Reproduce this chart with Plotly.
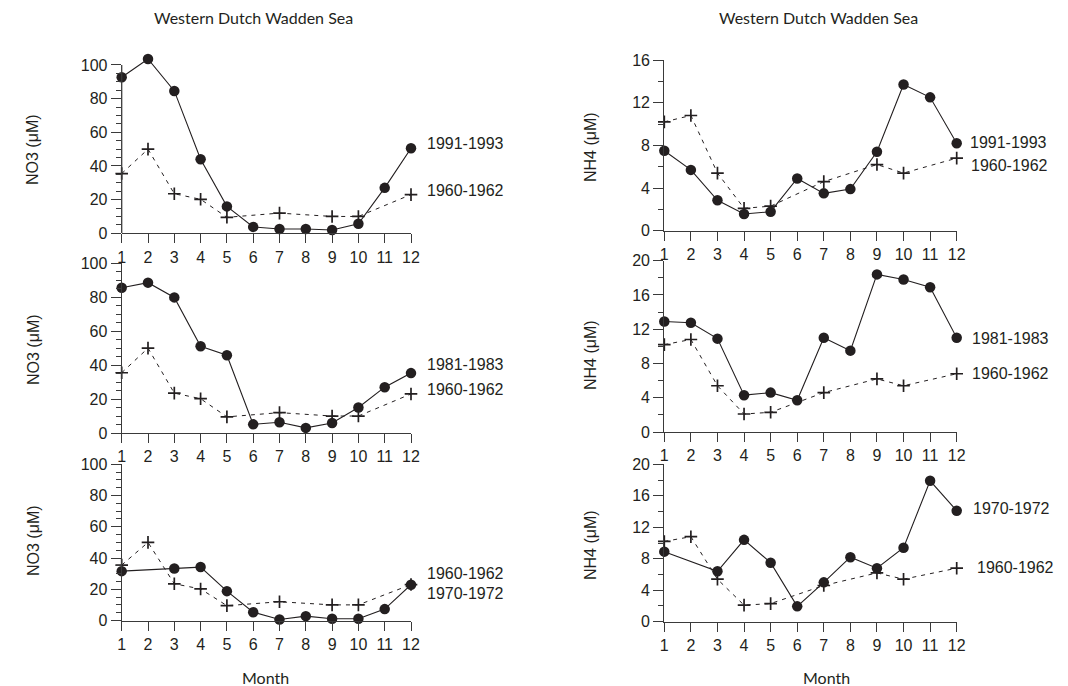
import plotly.graph_objects as go

# The page body adds an 8px margin, so the figure is sized and placed to fit the 1068x686 view.
VIEW_W, VIEW_H, OFF = 1068, 686, 8
W, H = VIEW_W - OFF, VIEW_H - OFF

months = list(range(1, 13))
month_labels = [str(m) for m in months]

# NO3 (uM)
no3_1960_1962 = [35.5, 50, 23.5, 20.2, 9.5, None, 12, None, 10, 10, None, 23]
no3_1991_1993 = [92.7, 103.6, 84.6, 44, 16, 3.8, 2.6, 2.6, 2.0, 5.7, 27, 50.5]
no3_1981_1983 = [85.6, 88.6, 79.9, 51.1, 45.8, 5.1, 6.3, 3.0, 5.9, 15, 27, 35.3]
no3_1970_1972 = [31.6, None, 33.3, 34.2, 18.8, 5.3, 0.6, 2.8, 1.1, 1.1, 7.3, 22.9]

# NH4 (uM)
nh4_1960_1962 = [10.2, 10.8, 5.4, 2.1, 2.3, None, 4.6, None, 6.2, 5.4, None, 6.8]
nh4_1991_1993 = [7.5, 5.7, 2.85, 1.56, 1.78, 4.9, 3.5, 3.9, 7.4, 13.7, 12.5, 8.2]
nh4_1981_1983 = [12.9, 12.75, 10.9, 4.3, 4.6, 3.7, 11.0, 9.5, 18.4, 17.8, 16.9, 11.0]
nh4_1970_1972 = [8.9, None, 6.4, 10.4, 7.5, 1.95, 5.0, 8.2, 6.8, 9.4, 17.9, 14.1]

title_text = "Western Dutch Wadden Sea"
no3_title = "NO3 (μM)"
nh4_title = "NH4 (μM)"
xlab = "Month"

FONT = "Liberation Sans, Arial, sans-serif"
TFONT = "Lato, Open Sans, sans-serif"
INK = "#231f20"
AX = "#3a3a3a"

def fx(p):
    return (p - OFF) / W

def fy(p):
    return 1 - (p - OFF) / H

panels = [
    dict(x0=121.7, x1=411.0, ytop=65.0, y0=233.3, amax=100, rtop=104.5, dtick=20, minor=5,
         main=no3_1991_1993, ref=no3_1960_1962),
    dict(x0=121.7, x1=411.0, ytop=263.3, y0=433.0, amax=100, rtop=100, dtick=20, minor=5,
         main=no3_1981_1983, ref=no3_1960_1962),
    dict(x0=121.7, x1=411.0, ytop=464.3, y0=620.5, amax=100, rtop=100, dtick=20, minor=5,
         main=no3_1970_1972, ref=no3_1960_1962),
    dict(x0=664.3, x1=956.7, ytop=60.0, y0=230.7, amax=16, rtop=16, dtick=4, minor=2,
         main=nh4_1991_1993, ref=nh4_1960_1962),
    dict(x0=664.3, x1=956.7, ytop=260.7, y0=432.0, amax=20, rtop=20, dtick=4, minor=2,
         main=nh4_1981_1983, ref=nh4_1960_1962),
    dict(x0=664.3, x1=956.7, ytop=464.3, y0=621.7, amax=20, rtop=20, dtick=4, minor=2,
         main=nh4_1970_1972, ref=nh4_1960_1962),
]

fig = go.Figure()
layout = dict(
    width=W, height=H, autosize=False,
    margin=dict(l=0, r=0, t=0, b=0, pad=0, autoexpand=False),
    paper_bgcolor="white", plot_bgcolor="white",
    showlegend=False,
    font=dict(family=FONT, size=16, color=INK),
)
shapes = []

for i, p in enumerate(panels):
    n = i + 1
    sfx = "" if n == 1 else str(n)
    xa = "x" + sfx
    ya = "y" + sfx
    pxu = (p["y0"] - p["ytop"]) / p["amax"]
    top_px = p["y0"] - p["rtop"] * pxu
    layout["xaxis" + sfx] = dict(
        domain=[fx(p["x0"]), fx(p["x1"])],
        anchor=ya, range=[1, 12],
        tickmode="array", tickvals=months, ticktext=month_labels,
        ticks="outside", ticklen=9, tickwidth=1, tickcolor=AX,
        showline=True, linecolor=AX, linewidth=1.3,
        showgrid=False, zeroline=False, automargin=False,
        tickfont=dict(family=FONT, size=16, color=INK),
    )
    clip_line = p["rtop"] > p["amax"]
    yax = dict(
        domain=[fy(p["y0"]), fy(top_px)],
        anchor=xa, range=[0, p["rtop"]],
        tickmode="array", tickvals=list(range(0, p["amax"] + 1, p["dtick"])),
        ticks="outside", ticklen=10, tickwidth=1, tickcolor=AX,
        minor=dict(ticks="outside", ticklen=5, tickwidth=1, tickcolor=AX,
                   tickmode="array", tickvals=list(range(0, p["amax"] + 1, p["minor"]))),
        showline=not clip_line, linecolor=AX, linewidth=1.3,
        showgrid=False, zeroline=False, automargin=False,
        tickfont=dict(family=FONT, size=16, color=INK),
    )
    layout["yaxis" + sfx] = yax
    if clip_line:
        shapes.append(dict(type="line", xref=f"{xa} domain", yref=ya, x0=0, x1=0, y0=0, y1=p["amax"],
                           line=dict(color=AX, width=1.3)))

    fig.add_trace(go.Scatter(
        x=months, y=p["ref"], xaxis=xa, yaxis=ya, mode="lines+markers",
        connectgaps=True, cliponaxis=False,
        line=dict(color=INK, width=1, dash="4px,5px"),
        marker=dict(symbol="cross-thin", size=9, line=dict(color=INK, width=1.7)),
    ))
    fig.add_trace(go.Scatter(
        x=months, y=p["main"], xaxis=xa, yaxis=ya, mode="lines+markers",
        connectgaps=True, cliponaxis=False,
        line=dict(color=INK, width=1.1),
        marker=dict(symbol="circle", size=10.5, color=INK),
    ))

annotations = []
def ann(text, x, y, anchor="left", size=16, font=FONT, angle=0):
    annotations.append(dict(text=text, x=fx(x), y=fy(y), xref="paper", yref="paper",
                            xanchor=anchor, yanchor="middle", showarrow=False, textangle=angle,
                            font=dict(family=font, size=size, color=INK)))

# series labels
ann("1991-1993", 425, 144)
ann("1960-1962", 425, 190)
ann("1981-1983", 425, 364)
ann("1960-1962", 425, 389)
ann("1960-1962", 425, 573)
ann("1970-1972", 425, 593)
ann("1991-1993", 968, 142)
ann("1960-1962", 969, 165)
ann("1981-1983", 970, 338)
ann("1960-1962", 970, 373)
ann("1970-1972", 971, 508)
ann("1960-1962", 975, 567)

# titles
ann(title_text, 253, 18, anchor="center", size=16, font=TFONT)
ann(title_text, 818, 18, anchor="center", size=16, font=TFONT)
ann(xlab, 265, 677, anchor="center", size=16, font=TFONT)
ann(xlab, 826, 677, anchor="center", size=16, font=TFONT)

# y titles
for yc in (150, 350, 541):
    ann(no3_title, 33, yc, anchor="center", size=16, angle=-90)
for yc in (147, 355, 545):
    ann(nh4_title, 590, yc, anchor="center", size=16, angle=-90)

layout["annotations"] = annotations
layout["shapes"] = shapes
fig.update_layout(**layout)
fig.write_html("out.html")
